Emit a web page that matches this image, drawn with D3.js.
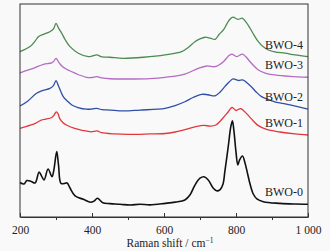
<!DOCTYPE html>
<html>
<head>
<meta charset="utf-8">
<script src="https://cdn.jsdelivr.net/npm/d3@7"></script>
<style>
  body { margin: 0; background: #f9f9fa; }
  svg { display: block; }
  svg text { font-family: 'Liberation Serif', 'Times New Roman', serif; }
</style>
</head>
<body>
<div id="graf"></div>
<script>
// Raman shift (cm-1) / intensity (a.u.)
const bwo0 = [[200,16.2],[211,15.5],[219,17.1],[231,16.7],[242,16.0],[253,21.1],[260,19.2],[267,17.4],
  [278,22.5],[289,18.9],[294,22.0],[302,30.7],[307,24.4],[314,15.8],[325,15.8],[331,16.0],[339,13.6],
  [353,9.9],[376,8.3],[396,6.9],[406,7.5],[415,8.8],[430,6.7],[450,6.3],[478,6.0],[506,5.6],[533,6.0],
  [561,5.7],[603,6.4],[631,7.0],[658,8.0],[672,10.3],[686,15.0],[700,18.2],[711,18.9],[723,17.4],
  [737,13.5],[746,12.3],[756,12.9],[764,15.5],[769,21.3],[779,33.8],[785,41.8],[790,45.2],[794,40.8],
  [800,30.5],[805,24.4],[810,26.8],[818,28.6],[825,25.4],[833,19.7],[839,15.5],[848,10.8],[858,8.5],
  [876,7.2],[922,6.4],[964,6.1],[1000,6.0]]

const bwo1 = [[200,41.6],[214,42.3],[231,43.2],[244,44.1],[259,45.5],[272,46.0],[287,46.6],[294,47.7],
  [301,49.4],[306,48.4],[310,46.3],[319,44.4],[329,43.2],[352,41.6],[375,40.6],[398,40.0],[414,40.4],
  [426,39.6],[464,39.0],[500,38.8],[561,39.0],[603,39.2],[631,39.9],[653,40.8],[686,42.3],[711,43.0],
  [728,42.7],[744,43.2],[764,46.5],[778,49.3],[789,51.4],[800,50.0],[813,50.9],[830,48.4],[848,45.1],
  [861,43.0],[885,41.1],[922,39.9],[964,39.0],[1000,38.5]]

const bwo2 = [[200,52.1],[222,54.5],[246,58.1],[264,59.4],[283,60.4],[293,61.7],[300,64.0],[307,61.5],
  [320,56.5],[331,54.5],[344,52.6],[361,51.4],[385,50.6],[400,50.7],[413,51.0],[428,50.4],[450,50.2],
  [487,49.8],[533,50.2],[603,51.0],[631,52.3],[658,54.1],[681,56.1],[705,57.6],[722,57.4],[742,56.9],
  [756,58.7],[769,61.2],[781,63.4],[792,64.8],[806,64.1],[820,64.3],[831,62.9],[844,60.9],[856,58.7],
  [871,56.5],[889,55.2],[908,54.1],[950,52.6],[1000,50.7]]

const bwo3 = [[200,67.7],[219,68.8],[237,69.8],[265,71.7],[288,72.4],[294,73.2],[300,74.5],[307,72.8],
  [316,70.9],[328,69.5],[344,68.2],[361,66.9],[385,65.6],[400,65.5],[413,65.9],[428,65.3],[450,64.9],
  [515,64.8],[561,65.0],[603,65.6],[658,67.1],[695,69.8],[719,70.9],[742,70.6],[765,72.9],[778,75.4],
  [788,76.5],[802,75.3],[818,76.5],[828,75.1],[839,72.9],[850,70.9],[862,69.0],[881,67.6],[908,66.7],
  [950,66.0],[1000,65.6]]

const bwo4 = [[200,77.6],[228,80.0],[242,82.6],[251,84.6],[267,85.9],[283,87.0],[293,88.3],[300,90.9],
  [307,88.7],[316,86.2],[326,83.1],[339,80.0],[362,76.9],[390,75.3],[403,75.7],[413,76.1],[428,75.2],
  [450,75.0],[487,74.5],[543,75.0],[603,76.1],[649,77.6],[667,79.6],[686,82.3],[700,83.6],[714,84.4],
  [728,84.0],[742,83.4],[753,85.7],[765,87.8],[775,90.8],[783,92.8],[792,93.8],[805,92.8],[818,93.3],
  [828,91.5],[839,88.6],[850,85.4],[862,82.3],[875,80.0],[890,78.4],[908,77.5],[936,76.9],[964,76.1],
  [1000,75.3]]

const nombres = ['BWO-0', 'BWO-1', 'BWO-2', 'BWO-3', 'BWO-4']
const series = [bwo0, bwo1, bwo2, bwo3, bwo4]
const colores = ['#111111', '#e2383c', '#2f4fa6', '#b36cc2', '#4b8b50']

const ticksMayores = [200, 400, 600, 800, 1000]
const ticksMenores = [300, 500, 700, 900]

const fuente = "'Liberation Serif', 'Times New Roman', serif"

const anchoTotal = 330
const altoTotal = 251
const margin = { top: 4, bottom: 34, left: 20, right: 22 }
const ancho = anchoTotal - margin.left - margin.right
const alto = altoTotal - margin.top - margin.bottom

const svg = d3.select('#graf')
  .append('svg')
  .attr('width', anchoTotal)
  .attr('height', altoTotal)

const g = svg.append('g')
  .attr('transform', `translate(${margin.left}, ${margin.top})`)

const x = d3.scaleLinear().domain([200, 1000]).range([0, ancho])
const y = d3.scaleLinear().domain([0, 100]).range([alto, 0])

const linea = d3.line()
  .x(d => x(d[0]))
  .y(d => y(d[1]))
  .curve(d3.curveCatmullRom.alpha(0.5))

// curvas
g.selectAll('path.curva')
  .data(series)
  .enter()
  .append('path')
  .attr('class', 'curva')
  .attr('d', linea)
  .attr('fill', 'none')
  .attr('stroke', (d, i) => colores[i])
  .attr('stroke-width', (d, i) => i === 0 ? 1.6 : 1.3)
  .attr('stroke-linejoin', 'round')

// etiquetas
g.selectAll('text.etiqueta')
  .data(series)
  .enter()
  .append('text')
  .attr('class', 'etiqueta')
  .attr('x', ancho - 5)
  .attr('y', d => y(d[d.length - 1][1]) - 8)
  .attr('text-anchor', 'end')
  .attr('font-family', fuente)
  .attr('font-size', 12)
  .attr('fill', '#222')
  .text((d, i) => nombres[i])

// marco
g.append('rect')
  .attr('width', ancho)
  .attr('height', alto)
  .attr('fill', 'none')
  .attr('stroke', '#333')
  .attr('stroke-width', 1)

// eje x
const xAxisGroup = g.append('g')
  .attr('transform', `translate(0, ${alto})`)
  .attr('font-family', fuente)
  .call(
    d3.axisBottom(x)
      .tickValues(ticksMayores)
      .tickSizeInner(-4)
      .tickSizeOuter(0)
      .tickPadding(9)
      .tickFormat(d => d === 1000 ? '1 000' : d)
  )
xAxisGroup.attr('font-family', fuente)
xAxisGroup.select('.domain').attr('stroke', '#333')
xAxisGroup.selectAll('line').attr('stroke', '#333')
xAxisGroup.selectAll('text')
  .attr('font-size', 11.5)
  .attr('font-family', fuente)
  .attr('fill', '#222')

const minorGroup = g.append('g')
  .attr('transform', `translate(0, ${alto})`)
  .call(
    d3.axisBottom(x)
      .tickValues(ticksMenores)
      .tickSizeInner(3)
      .tickSizeOuter(0)
      .tickFormat('')
  )
minorGroup.select('.domain').remove()
minorGroup.selectAll('line').attr('stroke', '#333')

// titulo eje
const titulo = g.append('text')
  .attr('x', ancho / 2 + 6)
  .attr('y', alto + 30)
  .attr('text-anchor', 'middle')
  .attr('font-family', fuente)
  .attr('font-size', 11.5)
  .attr('fill', '#222')
titulo.append('tspan').text('Raman shift / cm')
titulo.append('tspan').attr('dy', -4).attr('font-size', 7.5).text('−1')
</script>
</body>
</html>
